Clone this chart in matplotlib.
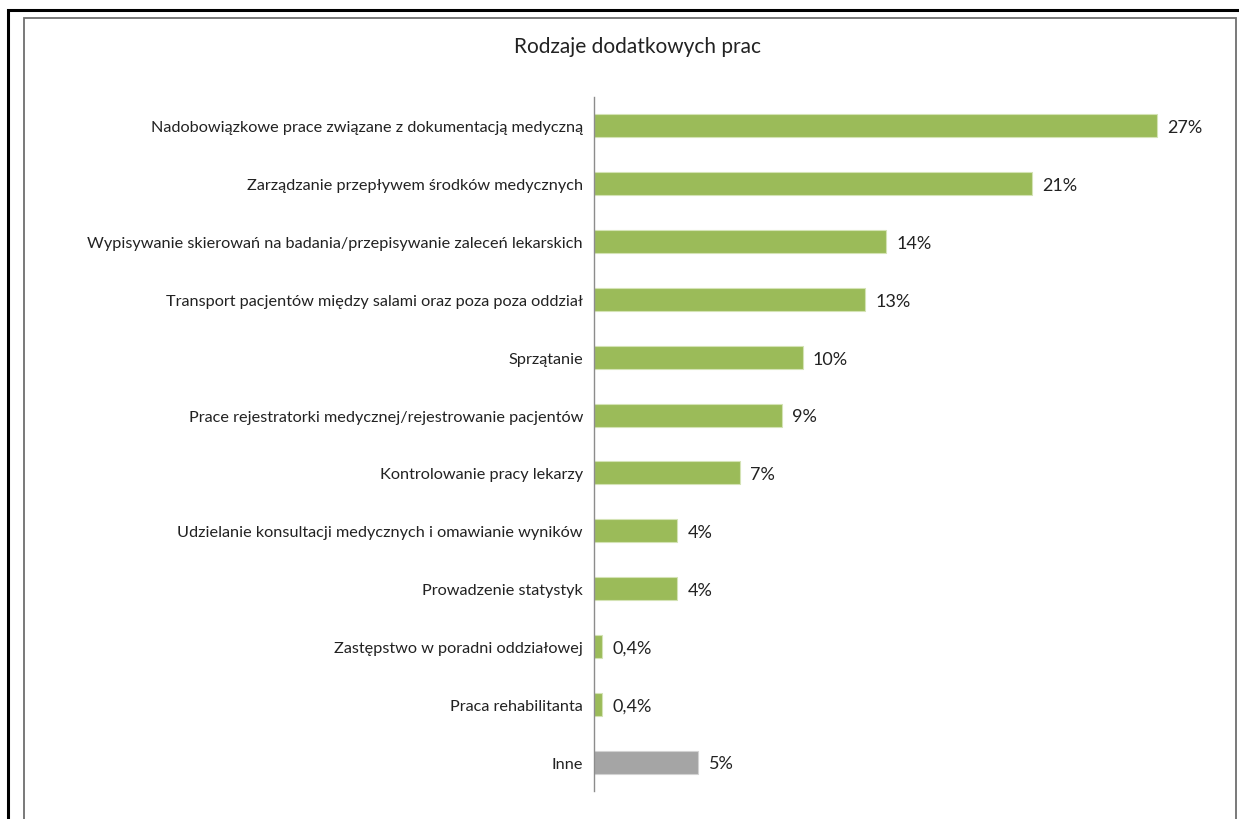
import matplotlib
matplotlib.use("Agg")
import matplotlib.pyplot as plt
from matplotlib.patches import Rectangle

categories = [
    "Nadobowiązkowe prace związane z dokumentacją medyczną",
    "Zarządzanie przepływem środków medycznych",
    "Wypisywanie skierowań na badania/przepisywanie zaleceń lekarskich",
    "Transport pacjentów między salami oraz poza poza oddział",
    "Sprzątanie",
    "Prace rejestratorki medycznej/rejestrowanie pacjentów",
    "Kontrolowanie pracy lekarzy",
    "Udzielanie konsultacji medycznych i omawianie wyników",
    "Prowadzenie statystyk",
    "Zastępstwo w poradni oddziałowej",
    "Praca rehabilitanta",
    "Inne",
]
values = [27, 21, 14, 13, 10, 9, 7, 4, 4, 0.4, 0.4, 5]
value_labels = ["27%", "21%", "14%", "13%", "10%", "9%", "7%", "4%", "4%",
                "0,4%", "0,4%", "5%"]
title = "Rodzaje dodatkowych prac"

GREEN = "#9BBB59"
GREY = "#A5A5A5"
colors = [GREY if c == "Inne" else GREEN for c in categories]
edges = ["#d2d2d2" if c == "Inne" else "#d4e3b5" for c in categories]

plt.rcParams["font.family"] = ["Lato", "DejaVu Sans"]

W, H = 1239, 820
fig = plt.figure(figsize=(W / 100, H / 100), dpi=100)

# Outer black frame (left and top visible) and inner grey chart frame
fig.add_artist(Rectangle((8 / W, -0.1), 1.2, 1 - 11 / H + 0.1, transform=fig.transFigure,
                         fill=False, edgecolor="black", linewidth=2.2))
fig.add_artist(Rectangle((24 / W, -0.1), (1236 - 24) / W, 1 - 19 / H + 0.1,
                         transform=fig.transFigure, fill=False,
                         edgecolor="#6e6e6e", linewidth=1.3))

x0, x1 = 594, 1219.5
y_top, y_bot = 98, 792
ax = fig.add_axes([x0 / W, 1 - y_bot / H, (x1 - x0) / W, (y_bot - y_top) / H])

ypos = list(range(len(categories)))
ax.barh(ypos, values, height=0.4, color=colors, edgecolor=edges, linewidth=0.8)
for i, (v, lab) in enumerate(zip(values, value_labels)):
    ax.annotate(lab, (v, i), xytext=(7.5, -1), textcoords="offset points",
                va="center", ha="left", fontsize=13, color="#222222")

ax.set_xlim(0, 30)
ax.set_ylim(len(categories) - 0.5, -0.5)
ax.set_yticks(ypos)
ax.set_yticklabels(categories, fontsize=11.7, color="#222222")
ax.tick_params(axis="y", length=0, pad=8)
ax.set_xticks([])
for s in ["top", "right", "bottom"]:
    ax.spines[s].set_visible(False)
ax.spines["left"].set_color("#8c8c8c")
ax.spines["left"].set_linewidth(1.0)

fig.text(637 / W, 1 - 47 / H, title, ha="center", va="center", fontsize=15, color="#222222")

fig.savefig("out.png", dpi=100)
